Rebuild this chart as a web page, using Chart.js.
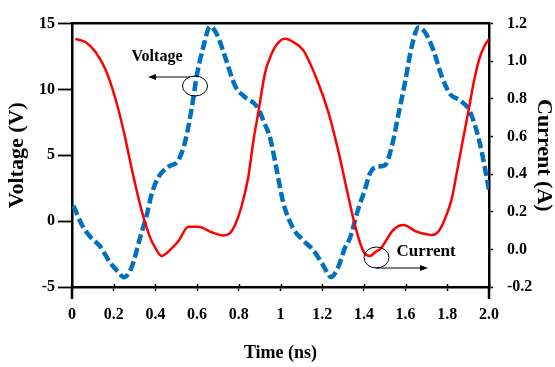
<!DOCTYPE html>
<html>
<head>
<meta charset="utf-8">
<script src="https://cdn.jsdelivr.net/npm/chart.js@4.4.1/dist/chart.umd.min.js"></script>
<style>
  html, body { margin: 0; padding: 0; background: #ffffff; }
  #c { display: block; }
</style>
</head>
<body>
<canvas id="c" width="555" height="367"></canvas>
<script>
// ---- data ----
const currentTime = [0.016,0.064,0.112,0.160,0.208,0.248,0.288,0.336,0.376,0.403,0.429,0.480,0.510,0.558,0.606,0.670,0.726,0.758,0.782,0.814,0.846,0.870,0.894,0.926,0.958,0.982,1.022,1.061,1.109,1.174,1.229,1.277,1.318,1.357,1.397,1.429,1.461,1.477,1.541,1.589,1.653,1.725,1.757,1.789,1.821,1.845,1.871,1.901,1.928,1.957,1.976,2.000];
const currentAmps = [1.119,1.102,1.050,0.957,0.802,0.628,0.421,0.198,0.060,0.001,-0.035,0.008,0.043,0.120,0.120,0.091,0.074,0.086,0.129,0.232,0.387,0.576,0.731,0.938,1.041,1.089,1.119,1.102,1.059,0.904,0.731,0.525,0.318,0.129,-0.009,-0.035,-0.009,0.000,0.103,0.129,0.094,0.077,0.094,0.163,0.267,0.404,0.559,0.731,0.895,1.024,1.076,1.119];

const voltageTime = [0.007,0.048,0.086,0.134,0.182,0.222,0.249,0.286,0.326,0.358,0.384,0.416,0.463,0.510,0.542,0.574,0.598,0.630,0.662,0.694,0.734,0.782,0.830,0.886,0.926,0.950,0.982,1.013,1.061,1.109,1.157,1.201,1.242,1.276,1.309,1.333,1.373,1.405,1.429,1.461,1.501,1.533,1.565,1.597,1.629,1.661,1.693,1.733,1.773,1.813,1.861,1.909,1.957,2.000];
const voltageVolts = [1.18,-0.30,-1.16,-1.90,-3.13,-3.87,-4.26,-3.50,-1.29,0.44,2.16,3.39,4.13,4.62,6.00,8.56,11.01,13.23,14.78,14.21,12.49,10.28,9.41,8.73,7.32,6.34,3.88,1.42,-0.55,-1.46,-2.20,-3.25,-4.24,-3.52,-2.03,-1.29,0.93,2.40,3.63,4.13,4.25,5.61,8.06,10.52,13.23,14.70,14.34,12.99,11.01,9.66,9.17,8.31,5.85,2.38];

const timeTickValues = [0,0.2,0.4,0.6,0.8,1.0,1.2,1.4,1.6,1.8,2.0];
const timeTickLabels = ['0','0.2','0.4','0.6','0.8','1','1.2','1.4','1.6','1.8','2.0'];
const voltageTickValues = [-5,0,5,10,15];
const voltageTickLabels = ['-5','0','5','10','15'];
const currentTickValues = [-0.2,0,0.2,0.4,0.6,0.8,1.0,1.2];
const currentTickLabels = ['-0.2','0.0','0.2','0.4','0.6','0.8','1.0','1.2'];

const seriesNames = ['Current', 'Voltage'];
const axisTitles = { x: 'Time (ns)', left: 'Voltage (V)', right: 'Current (A)' };

// ---- styling ----
const FONT = "'Liberation Serif', 'Times New Roman', serif";
const tickFont = { family: FONT, size: 16, weight: 'bold' };

const annotate = {
  id: 'annotate',
  afterDraw(chart) {
    const ctx = chart.ctx;
    const ca = chart.chartArea;
    ctx.save();
    // axis extensions below the bottom axis
    ctx.strokeStyle = '#000';
    ctx.lineWidth = 2.5;
    ctx.beginPath();
    ctx.moveTo(ca.left, ca.bottom); ctx.lineTo(ca.left, ca.bottom + 12);
    ctx.moveTo(ca.right, ca.bottom); ctx.lineTo(ca.right, ca.bottom + 12);
    ctx.stroke();
    // small inward tick parts on the time axis
    const xs = chart.scales.x;
    ctx.lineWidth = 1.5;
    ctx.beginPath();
    timeTickValues.forEach(v => {
      const px = Math.round(xs.getPixelForValue(v)) + 0.5;
      ctx.moveTo(px, ca.bottom); ctx.lineTo(px, ca.bottom - 3);
    });
    ctx.stroke();

    ctx.fillStyle = '#000';
    ctx.font = "bold 16px " + FONT;
    ctx.textAlign = 'center';
    ctx.textBaseline = 'middle';
    ctx.fillText(seriesNames[1], 157, 57);
    ctx.font = "bold 17px " + FONT;
    ctx.fillText(seriesNames[0], 426, 252);

    ctx.lineWidth = 1;
    // voltage ellipse + arrow to the left
    ctx.beginPath();
    ctx.ellipse(195, 86, 12.5, 10, 0, 0, Math.PI * 2);
    ctx.stroke();
    ctx.beginPath();
    ctx.moveTo(190, 77); ctx.lineTo(154, 77);
    ctx.stroke();
    ctx.beginPath();
    ctx.moveTo(148, 77); ctx.lineTo(156, 74); ctx.lineTo(156, 80); ctx.closePath();
    ctx.fill();
    // current ellipse + arrow to the right
    ctx.beginPath();
    ctx.ellipse(376.5, 257.5, 12.5, 10.5, 0, 0, Math.PI * 2);
    ctx.stroke();
    ctx.beginPath();
    ctx.moveTo(376, 268); ctx.lineTo(422, 268);
    ctx.stroke();
    ctx.beginPath();
    ctx.moveTo(428, 268); ctx.lineTo(420, 265); ctx.lineTo(420, 271); ctx.closePath();
    ctx.fill();
    ctx.restore();
  }
};

new Chart(document.getElementById('c'), {
  type: 'line',
  data: {
    datasets: [
      {
        label: seriesNames[0],
        data: currentTime.map((t, i) => ({ x: t, y: currentAmps[i] })),
        yAxisID: 'yRight',
        borderColor: '#ff0000',
        borderWidth: 2.5,
        pointRadius: 0,
        cubicInterpolationMode: 'monotone',
        fill: false
      },
      {
        label: seriesNames[1],
        data: voltageTime.map((t, i) => ({ x: t, y: voltageVolts[i] })),
        yAxisID: 'yLeft',
        borderColor: '#0070c0',
        borderWidth: 4.5,
        borderDash: [10, 4],
        borderCapStyle: 'butt',
        pointRadius: 0,
        cubicInterpolationMode: 'monotone',
        fill: false
      }
    ]
  },
  options: {
    responsive: false,
    animation: false,
    devicePixelRatio: 1,
    layout: { padding: 0 },
    plugins: { legend: { display: false }, tooltip: { enabled: false } },
    scales: {
      x: {
        type: 'linear',
        position: 'bottom',
        min: 0, max: 2,
        afterBuildTicks: s => { s.ticks = timeTickValues.map(v => ({ value: v })); },
        afterFit: s => { s.height = 80; },
        ticks: {
          color: '#000', font: tickFont, padding: 14, maxRotation: 0, autoSkip: false,
          callback: (v, i) => timeTickLabels[i]
        },
        grid: { drawOnChartArea: false, tickLength: 4, tickWidth: 1.5, tickColor: '#000' },
        border: { color: '#000', width: 2.5 },
        title: {
          display: true, text: axisTitles.x, color: '#000',
          font: { family: FONT, size: 18, weight: 'bold', lineHeight: 1.2 },
          padding: { top: 0, bottom: 3 }
        }
      },
      xTop: {
        type: 'linear',
        position: 'top',
        min: 0, max: 2,
        afterFit: s => { s.height = 16; },
        ticks: { display: false },
        grid: { display: false, drawTicks: false },
        border: { color: '#000', width: 2.5 }
      },
      yLeft: {
        type: 'linear',
        position: 'left',
        min: -5, max: 15,
        afterBuildTicks: s => { s.ticks = voltageTickValues.map(v => ({ value: v })); },
        afterFit: s => { s.width = 72; },
        ticks: { color: '#000', font: tickFont, padding: 3, callback: (v, i) => voltageTickLabels[i] },
        grid: { drawOnChartArea: false, tickLength: 14, tickWidth: 1.8, tickColor: '#000' },
        border: { color: '#000', width: 2.5 },
        title: {
          display: true, text: axisTitles.left, color: '#000',
          font: { family: FONT, size: 22, weight: 'bold', lineHeight: 1 },
          padding: { top: 6, bottom: 0 }
        }
      },
      yRight: {
        type: 'linear',
        position: 'right',
        min: -0.2, max: 1.2,
        afterBuildTicks: s => { s.ticks = currentTickValues.map(v => ({ value: v })); },
        afterFit: s => { s.width = 66; },
        ticks: { color: '#000', font: tickFont, padding: 14, callback: (v, i) => currentTickLabels[i] },
        grid: { drawOnChartArea: false, tickLength: 4, tickWidth: 1.5, tickColor: '#000' },
        border: { color: '#000', width: 2.5 },
        title: {
          display: true, text: axisTitles.right, color: '#000',
          font: { family: FONT, size: 22, weight: 'bold', lineHeight: 1 },
          padding: { top: 0, bottom: 0 }
        }
      }
    }
  },
  plugins: [annotate]
});
</script>
</body>
</html>
